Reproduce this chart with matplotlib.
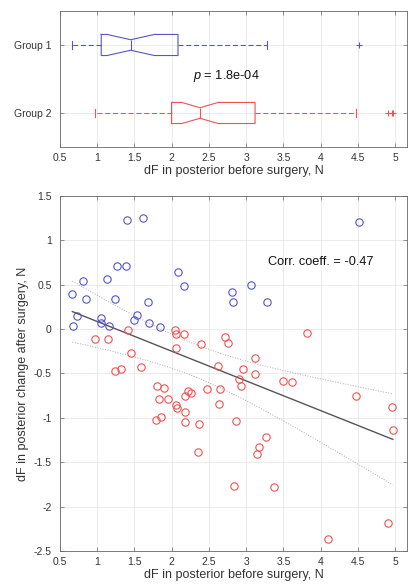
import numpy as np
import matplotlib
matplotlib.use('Agg')
import matplotlib.pyplot as plt

plt.rcParams['font.family'] = ['Liberation Sans', 'DejaVu Sans']
plt.rcParams['mathtext.fontset'] = 'custom'
plt.rcParams['mathtext.rm'] = 'Liberation Sans'
plt.rcParams['mathtext.it'] = 'Liberation Sans:italic'

# ---------------- data ----------------
group_labels = ['Group 1', 'Group 2']

g1_before = [0.666, 0.676, 0.734, 0.806, 0.855, 1.045, 1.054, 1.126, 1.158, 1.243,
             1.27, 1.392, 1.405, 1.495, 1.536, 1.617, 1.676, 1.698, 1.838, 2.085,
             2.162, 2.81, 2.83, 3.07, 3.28, 4.51]
g1_change = [0.40, 0.04, 0.15, 0.545, 0.34, 0.13, 0.07, 0.56, 0.03, 0.34,
             0.71, 0.71, 1.225, 0.10, 0.155, 1.255, 0.31, 0.07, 0.02, 0.64,
             0.49, 0.42, 0.31, 0.50, 0.30, 1.205]

g2_before = [0.968, 1.144, 1.414, 1.455, 1.243, 1.32, 1.585, 1.80, 1.896, 1.824,
             1.946, 1.784, 1.851, 2.05, 2.054, 2.166, 2.054, 2.396, 2.058, 2.077,
             2.185, 2.18, 2.225, 2.26, 2.185, 2.365, 2.347, 2.468, 2.62, 2.644,
             2.635, 2.71, 2.75, 2.86, 2.84, 2.90, 2.93, 2.955, 3.12, 3.12,
             3.15, 3.17, 3.27, 3.37, 3.495, 3.62, 3.82, 4.10, 4.47, 4.91,
             4.96, 4.97]
g2_change = [-0.11, -0.11, -0.01, -0.267, -0.477, -0.45, -0.43, -0.64, -0.66, -0.79,
             -0.79, -1.02, -0.99, -0.01, -0.05, -0.05, -0.218, -0.17, -0.85, -0.89,
             -0.93, -1.05, -0.70, -0.72, -0.75, -1.07, -1.39, -0.68, -0.41, -0.67,
             -0.84, -0.086, -0.16, -1.04, -1.77, -0.567, -0.64, -0.447, -0.327, -0.507,
             -1.41, -1.33, -1.22, -1.78, -0.58, -0.60, -0.04, -2.37, -0.75, -2.19,
             -0.88, -1.14]

p_label = r'$p$ = 1.8e-04'
corr_label = 'Corr. coeff. = -0.47'
xlabel = 'dF in posterior before surgery, N'
ylabel = 'dF in posterior change after surgery, N'
x_ticks = [0.5, 1, 1.5, 2, 2.5, 3, 3.5, 4, 4.5, 5]
y_ticks = [-2.5, -2, -1.5, -1, -0.5, 0, 0.5, 1, 1.5]

BLUE = '#5555c8'
RED = '#f05252'
TXT = '#333333'


def matlab_prctile(x, p):
    x = np.sort(np.asarray(x, dtype=float))
    n = len(x)
    return np.interp(p / 100.0 * n, np.arange(n) + 0.5, x)


def box_stats(x, whis=1.5):
    x = np.asarray(x, dtype=float)
    q1, med, q3 = (matlab_prctile(x, 25), matlab_prctile(x, 50),
                   matlab_prctile(x, 75))
    iqr = q3 - q1
    lo, hi = q1 - whis * iqr, q3 + whis * iqr
    inside = x[(x >= lo) & (x <= hi)]
    notch = 1.57 * iqr / np.sqrt(len(x))
    return dict(med=med, q1=q1, q3=q3, whislo=inside.min(), whishi=inside.max(),
                fliers=x[(x < lo) | (x > hi)], cilo=med - notch, cihi=med + notch)


def style_axes(ax):
    for s in ax.spines.values():
        s.set_color('#666666')
        s.set_linewidth(0.6)
    ax.tick_params(direction='in', length=3, width=0.5, colors='#666666',
                   labelcolor=TXT, labelsize=7.5, top=True, right=True)
    ax.grid(True, color='#e3e3e3', linewidth=0.5)
    ax.set_axisbelow(True)


fig = plt.figure(figsize=(4.10, 5.84), dpi=100)

# ---------------- box plot ----------------
axb = fig.add_axes([0.1463, 0.7483, 0.8463, 0.2329])
for pos, data, col in [(1, g1_before, BLUE), (2, g2_before, RED)]:
    st = box_stats(data)
    axb.bxp([st], positions=[pos], widths=0.31, orientation='horizontal',
            shownotches=True, capwidths=[0.125],
            boxprops=dict(color=col, linewidth=0.8),
            whiskerprops=dict(color=col, linewidth=0.8, linestyle=(0, (4.5, 2.5))),
            capprops=dict(color=col, linewidth=0.8),
            medianprops=dict(color=col, linewidth=0.8),
            flierprops=dict(marker='+', markeredgecolor=col, markersize=5,
                            markeredgewidth=0.8, linestyle='none'))
axb.set_xlim(0.5, 5.16)
axb.set_ylim(2.5, 0.5)
axb.set_xticks(x_ticks)
axb.set_xticklabels([f'{v:g}' for v in x_ticks])
axb.set_yticks([1, 2])
axb.set_yticklabels(group_labels)
style_axes(axb)
axb.tick_params(axis='x', pad=4)
axb.tick_params(axis='y', pad=6)
axb.set_xlabel(xlabel, fontsize=9, color=TXT, labelpad=2)
axb.text(2.73, 1.45, p_label, ha='center', va='center', fontsize=9.2, color='#111111')

# ---------------- scatter ----------------
axs = fig.add_axes([0.1463, 0.0565, 0.8463, 0.6079])
axs.plot(g1_before, g1_change, 'o', mfc='none', mec=BLUE, ms=5.3, mew=0.8, zorder=3)
axs.plot(g2_before, g2_change, 'o', mfc='none', mec=RED, ms=5.3, mew=0.8, zorder=3)

x_all = np.concatenate([g1_before, g2_before])
y_all = np.concatenate([g1_change, g2_change])
n = len(x_all)
slope, intercept = np.polyfit(x_all, y_all, 1)
xs = np.linspace(x_all.min(), x_all.max(), 200)
fit = slope * xs + intercept
resid = y_all - (slope * x_all + intercept)
s = np.sqrt(np.sum(resid ** 2) / (n - 2))
xbar = x_all.mean()
sxx = np.sum((x_all - xbar) ** 2)
crit = 2.5  # simultaneous 95% confidence bound factor
band = crit * s * np.sqrt(1.0 / n + (xs - xbar) ** 2 / sxx)
axs.plot(xs, fit, color='#555555', linewidth=1.0, zorder=2)
axs.plot(xs, fit + band, color='#aaaaaa', linewidth=0.7, linestyle=':', zorder=2)
axs.plot(xs, fit - band, color='#aaaaaa', linewidth=0.7, linestyle=':', zorder=2)

axs.set_xlim(0.5, 5.16)
axs.set_ylim(-2.5, 1.5)
axs.set_xticks(x_ticks)
axs.set_xticklabels([f'{v:g}' for v in x_ticks])
axs.set_yticks(y_ticks)
axs.set_yticklabels([f'{v:g}' for v in y_ticks])
style_axes(axs)
axs.tick_params(axis='x', pad=4)
axs.tick_params(axis='y', pad=6)
axs.set_xlabel(xlabel, fontsize=9, color=TXT, labelpad=2)
axs.set_ylabel(ylabel, fontsize=9, color=TXT, labelpad=3)
axs.text(3.29, 0.76, corr_label, ha='left', va='center', fontsize=9.2, color='#111111')

fig.savefig('out.png', dpi=100)
